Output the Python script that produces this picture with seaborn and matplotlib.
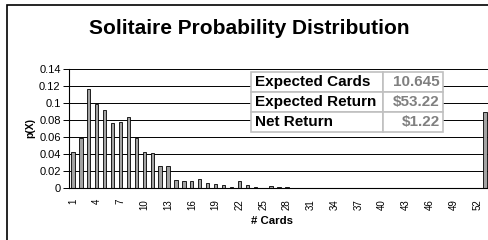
import matplotlib
matplotlib.use("Agg")
import matplotlib.pyplot as plt
import seaborn as sns
import pandas as pd
from matplotlib.patches import Rectangle
from matplotlib.ticker import FixedLocator

cards = list(range(1, 54))
probs = [0.042, 0.059, 0.116, 0.099, 0.092, 0.077, 0.078, 0.084, 0.059, 0.042,
         0.041, 0.026, 0.026, 0.0095, 0.0083, 0.0083, 0.0103, 0.006, 0.0043, 0.0032,
         0.0012, 0.0083, 0.003, 0.001, 0.0, 0.002, 0.001, 0.001, 0.0, 0.0005,
         0.0, 0.0005, 0.0, 0.0, 0.0, 0.0, 0.0, 0.0, 0.0, 0.0,
         0.0, 0.0, 0.0, 0.0, 0.0, 0.0, 0.0, 0.0, 0.0, 0.0,
         0.0, 0.0, 0.089]
y_ticks = [0, 0.02, 0.04, 0.06, 0.08, 0.1, 0.12, 0.14]
y_labels = ["0", "0.02", "0.04", "0.06", "0.08", "0.1", "0.12", "0.14"]
stat_names = ["Expected Cards", "Expected Return", "Net Return"]
stat_values = ["10.645", "$53.22", "$1.22"]

df = pd.DataFrame({"cards": cards, "p": probs})

sns.set_style("white")
plt.rcParams["font.family"] = ["Liberation Sans", "DejaVu Sans"]
plt.rcParams["text.color"] = "black"
plt.rcParams["axes.labelcolor"] = "black"
plt.rcParams["xtick.color"] = "black"
plt.rcParams["ytick.color"] = "black"

fig = plt.figure(figsize=(4.89, 2.4), dpi=100)
ax = fig.add_axes([69 / 489, 1 - 188 / 240, 420 / 489, 119 / 240])

sns.barplot(data=df, x="cards", y="p", order=cards, color="#a3a3a3",
            edgecolor="black", linewidth=0.6, width=0.42, saturation=1, ax=ax)

ax.set_xlim(-0.5, 52.5)
ax.yaxis.set_major_locator(FixedLocator(y_ticks))
ax.set_yticklabels(y_labels)
ax.set_ylim(0, 0.14)
ax.grid(axis="y", color="black", linewidth=0.7)
ax.set_axisbelow(True)

pos = list(range(0, 53, 3))
ax.xaxis.set_major_locator(FixedLocator(pos))
ax.set_xticklabels([str(cards[i]) for i in pos], rotation=90)
ax.xaxis.set_minor_locator(FixedLocator([i - 0.5 for i in range(54)]))
ax.tick_params(axis="x", which="major", length=0, labelsize=7, pad=8)
ax.tick_params(axis="x", which="minor", length=3.5, width=0.7, color="black", direction="out")
ax.tick_params(axis="y", length=4, width=0.7, color="black", direction="out", labelsize=8, pad=2)
ax.tick_params(bottom=True, left=True)

for s in ["top", "right"]:
    ax.spines[s].set_visible(False)
for s in ["left", "bottom"]:
    ax.spines[s].set_color("black")
    ax.spines[s].set_linewidth(0.8)

ax.set_xlabel("# Cards", fontsize=8.2, fontweight="bold")
ax.xaxis.set_label_coords((272 - 69) / 420, -(221 - 188) / 119)
ax.set_ylabel("p(X)", fontsize=7.5, fontweight="bold")
ax.yaxis.set_label_coords(-(69 - 30) / 420, 0.5)
ax.xaxis.label.set_va("center")
ax.yaxis.label.set_va("center")

fig.text(249 / 489, 1 - 28 / 240, "Solitaire Probability Distribution",
         fontsize=15, fontweight="bold", ha="center", va="center")

tbl = ax.table(cellText=[[n, v] for n, v in zip(stat_names, stat_values)],
               colWidths=[0.6875, 0.3125],
               bbox=[182 / 420, (188 - 132) / 119, 192 / 420, 60 / 119],
               zorder=5)
tbl.auto_set_font_size(False)
for (r, c), cell in tbl.get_celld().items():
    cell.set_facecolor("white")
    cell.set_edgecolor("#c0c0c0")
    cell.set_linewidth(1.2)
    txt = cell.get_text()
    txt.set_fontsize(11)
    txt.set_fontweight("bold")
    if c == 0:
        txt.set_ha("left")
        cell.PAD = 0.03
        txt.set_color("black")
    else:
        txt.set_ha("right")
        cell.PAD = 0.05
        txt.set_color("#808080")

fig.patches.append(Rectangle((7 / 489, -0.1), 1.2, 1 - 5 / 240 + 0.1,
                             transform=fig.transFigure, fill=False,
                             edgecolor="black", linewidth=1.2))

fig.savefig("out.png", dpi=100)
